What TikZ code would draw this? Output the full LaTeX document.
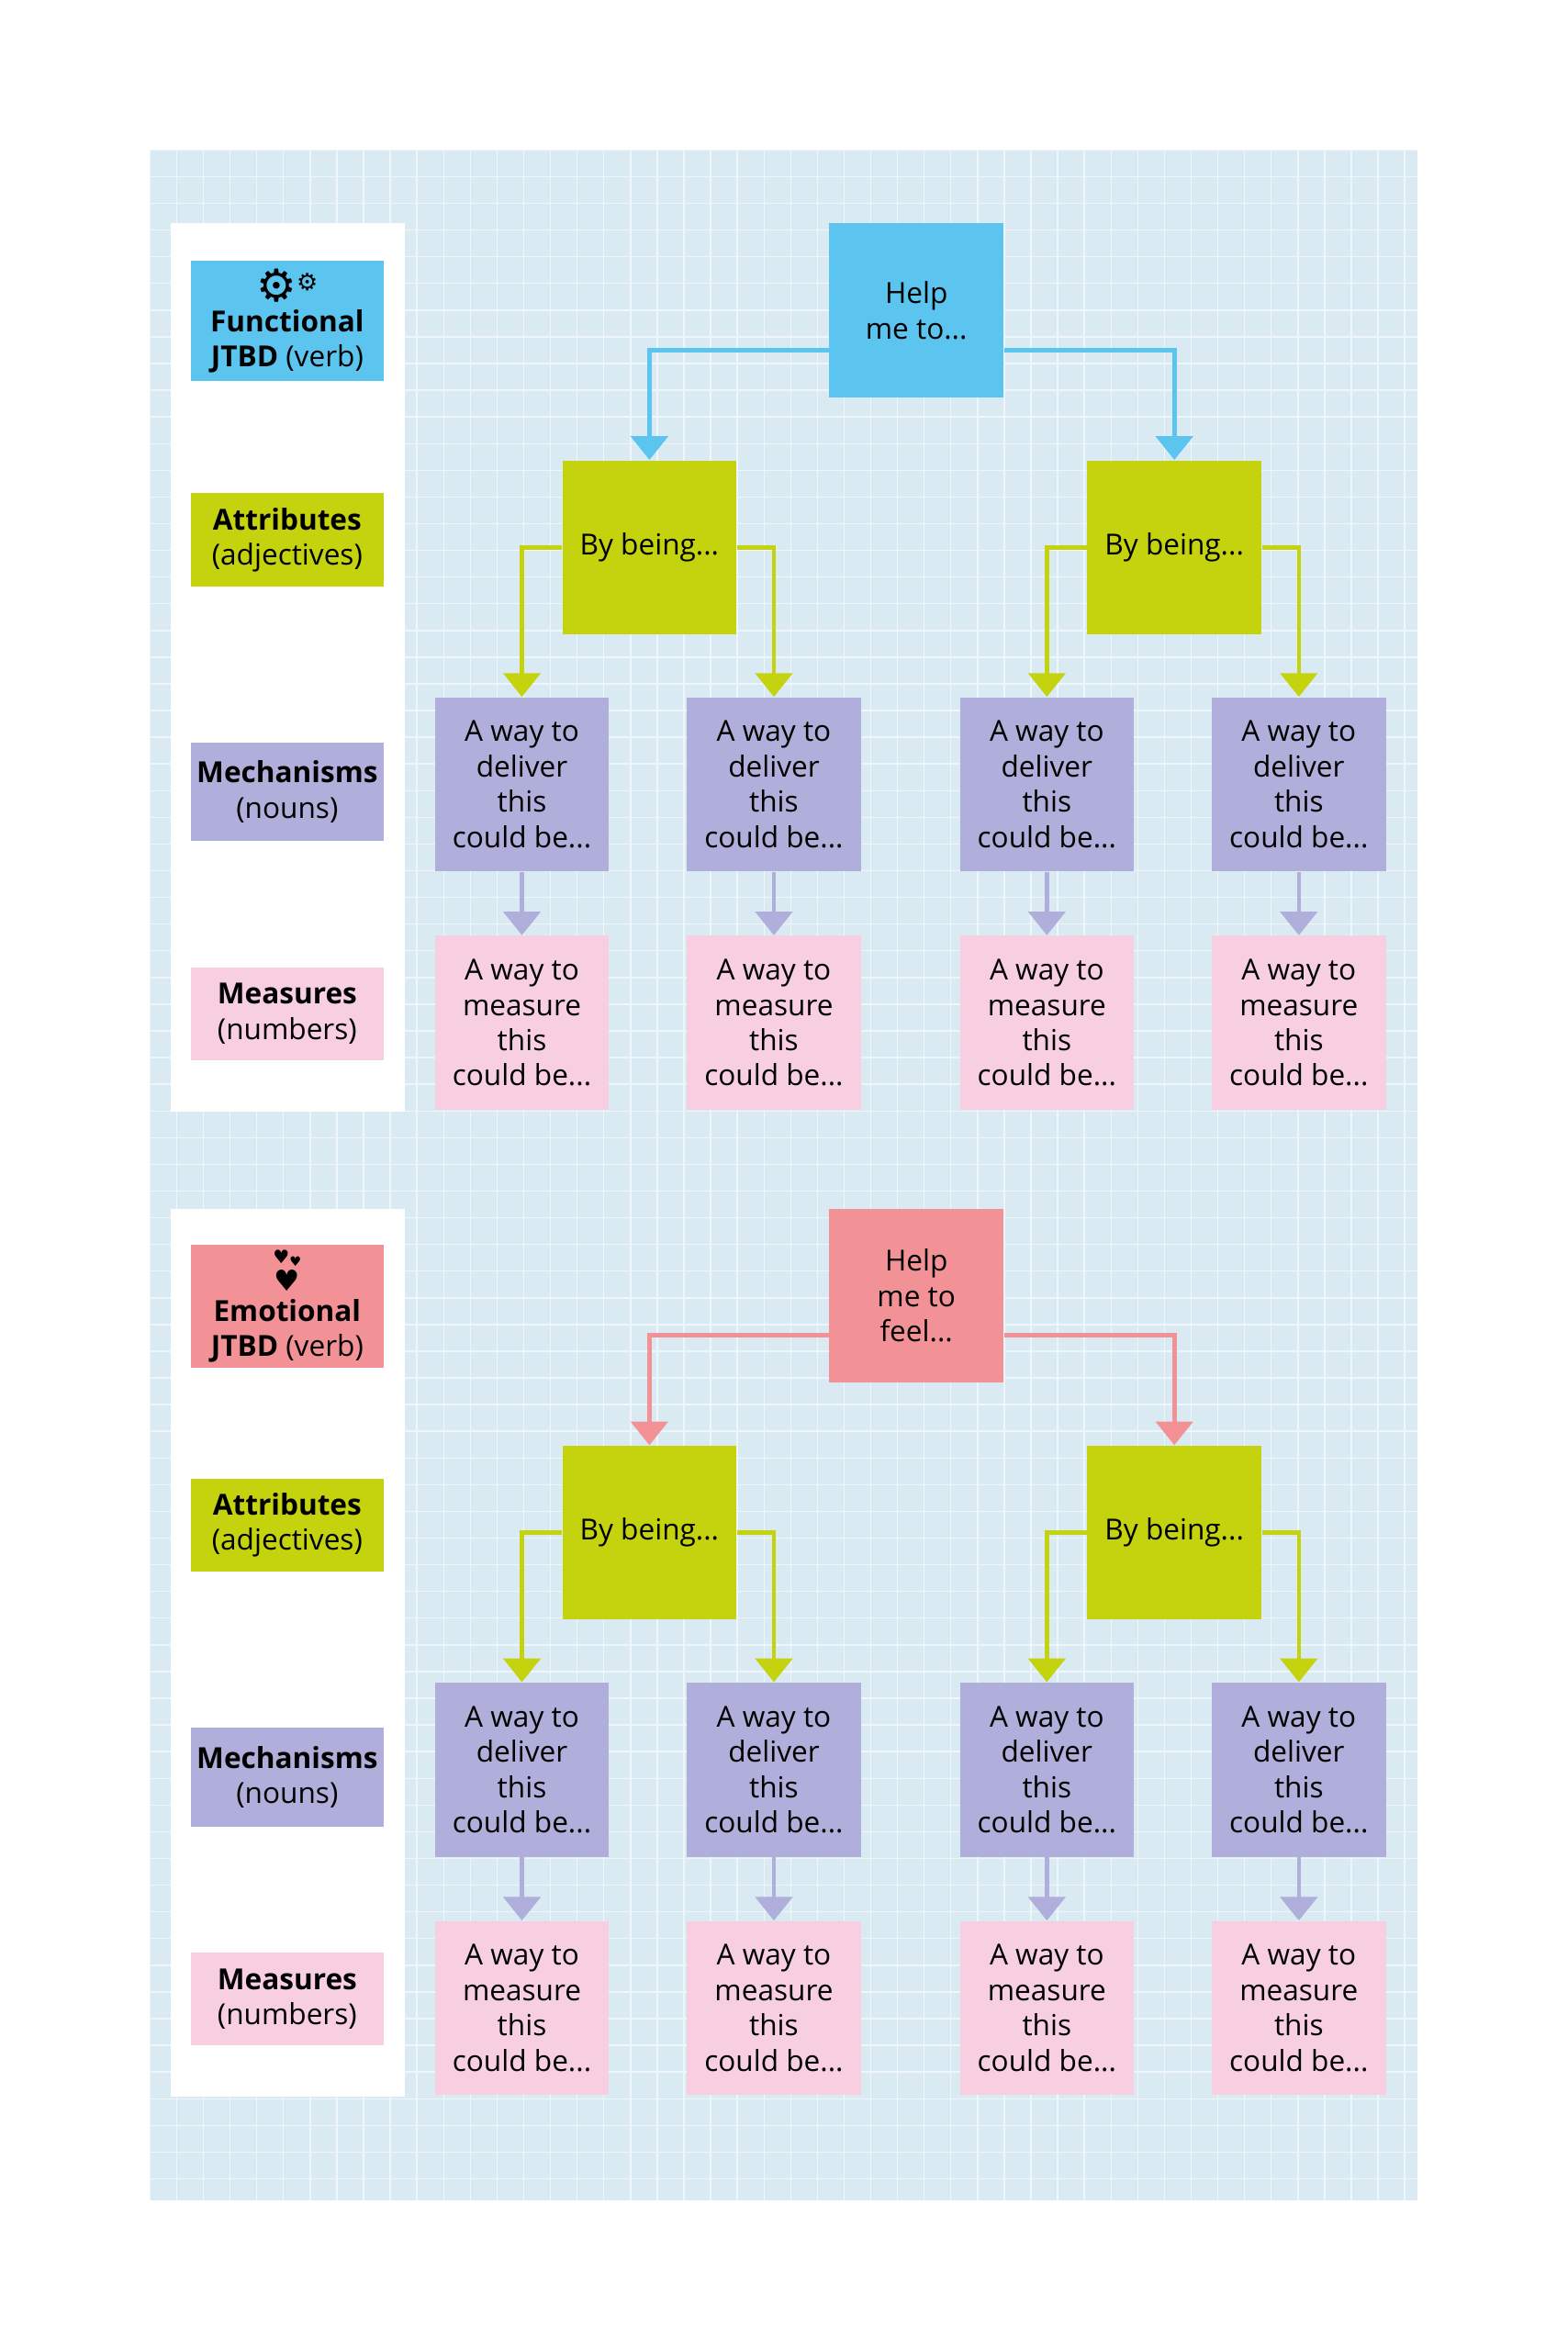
\documentclass[tikz,border=0pt]{standalone}
\usepackage{fontspec}
\setmainfont{Open Sans}
\newfontfamily\symfont{DejaVu Sans}
\usetikzlibrary{arrows.meta}

\definecolor{gridbg}{HTML}{DAEAF2}
\definecolor{gridline}{HTML}{EEF6FA}
\definecolor{jobblue}{HTML}{5BC5F0}
\definecolor{jobred}{HTML}{F29196}
\definecolor{attrgreen}{HTML}{C5D30E}
\definecolor{mechpurple}{HTML}{B0AEDA}
\definecolor{measpink}{HTML}{F7CFE0}

\newcommand\helpa{Help\\me to...}
\newcommand\helpb{Help\\me to\\feel...}
\newcommand\gearicon{{\symfont\fontsize{17}{17}\selectfont\char"2699\raisebox{4pt}{\fontsize{9}{9}\selectfont\char"2699}}}
\newcommand\hearticon{{\symfont\fontsize{7}{7}\selectfont\char"2665\raisebox{-1pt}{\fontsize{5}{5}\selectfont\char"2665}}\\[-3pt]{\symfont\fontsize{11}{11}\selectfont\char"2665}}

\tikzset{
  card/.style={minimum width=2.32cm, minimum height=2.32cm, inner sep=2pt, align=center,
    font=\fontsize{11}{13.4}\selectfont},
  tag/.style={minimum width=2.58cm, inner sep=2pt, align=center,
    font=\fontsize{11}{13.4}\selectfont},
  flow/.style={line width=1.6pt, -{Triangle[width=14pt,length=9pt]}},
}

\begin{document}
\begin{tikzpicture}[x=0.02cm, y=-0.02cm]
  \useasboundingbox (0,0) rectangle (1045,1567);
  % grid background
  \fill[gridbg] (100,100) rectangle (945,1467);
  \foreach \gx in {100,117.8,...,945} \draw[gridline, line width=0.5pt] (\gx,100) -- (\gx,1467);
  \foreach \gy in {100,117.8,...,1467} \draw[gridline, line width=0.5pt] (100,\gy) -- (945,\gy);

  \foreach \dy/\jobcol/\icon/\kind/\help/\s in {0/jobblue/\gearicon/Functional/\helpa/a,
      657/jobred/\hearticon/Emotional/\helpb/b} {
    \begin{scope}[yshift=-\dy*0.02cm]
      % legend panel
      \fill[white] (114,149) rectangle (270,741);
      \node[tag, fill=\jobcol, minimum height=1.6cm] (job\s) at (191.5,214)
        {\icon\\[-2pt]\textbf{\kind}\\\textbf{JTBD} (verb)};
      \node[tag, fill=attrgreen, minimum height=1.24cm] (attr\s) at (191.5,360)
        {\textbf{Attributes}\\(adjectives)};
      \node[tag, fill=mechpurple, minimum height=1.32cm] (mech\s) at (191.5,528)
        {\textbf{Mechanisms}\\(nouns)};
      \node[tag, fill=measpink, minimum height=1.24cm] (meas\s) at (191.5,676)
        {\textbf{Measures}\\(numbers)};

      % job
      \node[card, fill=\jobcol] (help\s) at (611,207) {\help};
      \node[card, fill=attrgreen] (by\s1) at (433,365) {By being...};
      \node[card, fill=attrgreen] (by\s2) at (783,365) {By being...};
      \draw[flow, \jobcol] ([yshift=0.64cm]help\s.south west) -| (by\s1.north);
      \draw[flow, \jobcol] ([yshift=0.64cm]help\s.south east) -| (by\s2.north);

      % mechanisms and measures
      \foreach \i/\mx/\p/\side in {1/348/1/west, 2/516/1/east, 3/698/2/west, 4/866/2/east} {
        \node[card, fill=mechpurple] (way\s\i) at (\mx,523) {A way to\\deliver\\this\\could be...};
        \node[card, fill=measpink] (num\s\i) at (\mx,682) {A way to\\measure\\this\\could be...};
        \draw[flow, attrgreen] (by\s\p.\side) -| (way\s\i.north);
        \draw[flow, mechpurple] (way\s\i) -- (num\s\i);
      }
    \end{scope}
  }
\end{tikzpicture}
\end{document}
